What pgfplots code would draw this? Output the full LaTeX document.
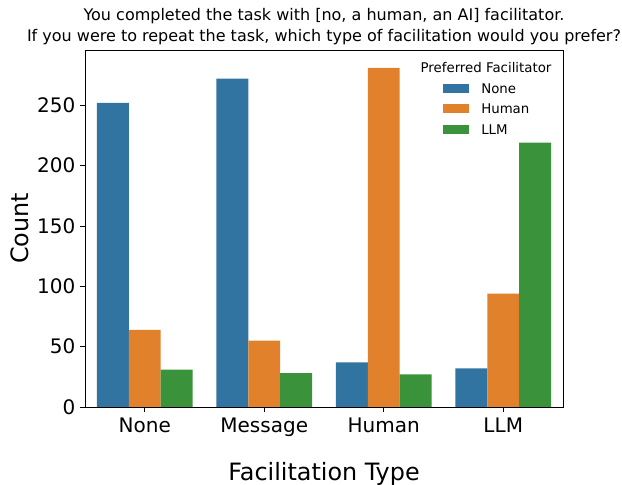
\documentclass[border=0pt]{standalone}
\usepackage{fontspec}
\setmainfont{DejaVu Sans}
\usepackage{pgfplots}
\pgfplotsset{compat=1.18}
\definecolor{cNone}{HTML}{3274A1}
\definecolor{cHuman}{HTML}{E1812C}
\definecolor{cLLM}{HTML}{3A923A}
\begin{document}
\begin{tikzpicture}
\useasboundingbox (0,0) rectangle (466.5pt,363.75pt);
\begin{axis}[
  at={(63.75pt,58.5pt)}, anchor=south west,
  scale only axis, width=358.5pt, height=267.75pt,
  xmin=-0.5, xmax=3.5, ymin=0, ymax=295.8,
  xtick={0,1,2,3}, xticklabels={None,Message,Human,LLM},
  ytick={0,50,100,150,200,250},
  tick align=outside, xtick pos=bottom, ytick pos=left,
  major tick length=3.75pt,
  tick style={black, line width=0.6pt},
  axis line style={black, line width=0.6pt},
  /pgf/number format/assume math mode=true,
  ticklabel style={font=\fontsize{15}{18}\selectfont},
  xticklabel style={yshift=-1pt},
  title={You completed the task with [no, a human, an AI] facilitator.\\If you were to repeat the task, which type of facilitation would you prefer?},
  title style={font=\fontsize{12}{15.75}\selectfont, align=center, at={(0.5,1)}, anchor=south, inner sep=0pt, yshift=-2.5pt},
  xlabel={Facilitation Type},
  xlabel style={font=\fontsize{17.9}{20}\selectfont, at={(axis description cs:0.5,0)}, anchor=center, yshift=-50pt},
  ylabel={Count},
  ylabel style={font=\fontsize{17.9}{20}\selectfont, at={(axis description cs:-0.136,0.5)}, anchor=center},
  ybar, bar width=0.26667,
  legend image code/.code={\fill[#1] (0pt,0.2pt) rectangle (19.5pt,7pt);},
  legend style={at={(0.749,0.908)}, anchor=north west, draw=none, fill=none,
    font=\fontsize{10}{12}\selectfont, inner sep=0pt, row sep=5.5pt,
    nodes={inner sep=0pt, text height=7.5pt, text depth=2.4pt, anchor=base west},
    /tikz/every odd column/.append style={column sep=9pt}},
  legend cell align=left,
]
\addplot[fill=cNone, draw=none, bar shift=-0.26667] coordinates {(0,252) (1,272) (2,37) (3,32)};
\addlegendentry{None}
\addplot[fill=cHuman, draw=none, bar shift=0] coordinates {(0,64) (1,55) (2,281) (3,94)};
\addlegendentry{Human}
\addplot[fill=cLLM, draw=none, bar shift=0.26667] coordinates {(0,31) (1,28) (2,27) (3,219)};
\addlegendentry{LLM}
\node[font=\fontsize{10}{12}\selectfont, anchor=center] at (axis description cs:0.839,0.95) {Preferred Facilitator};
\end{axis}
\end{tikzpicture}
\end{document}
